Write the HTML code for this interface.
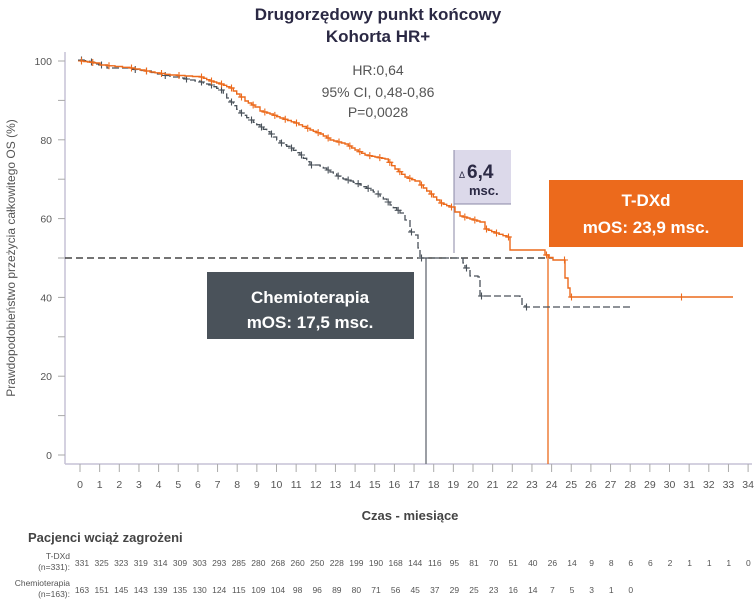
<!DOCTYPE html>
<html><head><meta charset="utf-8">
<style>
body{margin:0;background:#fff;width:756px;height:603px;overflow:hidden;font-family:"Liberation Sans",sans-serif}
svg{position:absolute;left:0;top:0}
</style></head><body>
<svg id="s" width="756" height="603" xmlns="http://www.w3.org/2000/svg" font-family="Liberation Sans, sans-serif">
<text x="378" y="20" text-anchor="middle" font-size="17" font-weight="bold" fill="#2b2944">Drugorzędowy punkt końcowy</text>
<text x="378" y="42" text-anchor="middle" font-size="17" font-weight="bold" fill="#2b2944">Kohorta HR+</text>
<line x1="65" y1="52" x2="65" y2="464" stroke="#c6c2d6" stroke-width="1.5"/>
<line x1="65" y1="464" x2="752" y2="464" stroke="#c6c2d6" stroke-width="1.5"/>
<g id="yt" font-size="10.5" fill="#555" text-anchor="end"></g>
<g id="xt" font-size="10.5" fill="#555" text-anchor="middle"></g>
<text transform="translate(15,258) rotate(-90)" text-anchor="middle" font-size="12" fill="#555">Prawdopodobieństwo przeżycia całkowitego OS (%)</text>
<text x="378" y="75" text-anchor="middle" font-size="14" fill="#555">HR:0,64</text>
<text x="378" y="97" text-anchor="middle" font-size="14" fill="#555">95% CI, 0,48-0,86</text>
<text x="378" y="117" text-anchor="middle" font-size="14" fill="#555">P=0,0028</text>
<line x1="65" y1="258" x2="553" y2="258" stroke="#222" stroke-width="1.2" stroke-dasharray="7,4"/>
<line x1="426" y1="258" x2="426" y2="464" stroke="#7a7f86" stroke-width="1.5"/>
<line x1="548" y1="254" x2="548" y2="464" stroke="#ec6a1c" stroke-width="1.3"/>
<rect x="454" y="150" width="57" height="54" fill="#dcd9ea"/>
<line x1="454" y1="150" x2="454" y2="253" stroke="#8a87a5" stroke-width="1"/>
<line x1="454" y1="204" x2="511" y2="204" stroke="#8a87a5" stroke-width="1"/>
<text x="459" y="178" font-size="9" fill="#2b2944">Δ</text>
<text x="467" y="178" font-size="19" font-weight="bold" fill="#2b2944">6,4</text>
<text x="469" y="195" font-size="13" font-weight="bold" fill="#2b2944">msc.</text>
<g id="curves"></g>
<rect x="549" y="180" width="194" height="67" fill="#ec6a1c"/>
<text x="646" y="206" text-anchor="middle" font-size="17" font-weight="bold" fill="#fff">T-DXd</text>
<text x="646" y="233" text-anchor="middle" font-size="17" font-weight="bold" fill="#fff">mOS: 23,9 msc.</text>
<rect x="207" y="272" width="207" height="67" fill="#4a525a"/>
<text x="310" y="303" text-anchor="middle" font-size="17" font-weight="bold" fill="#fff">Chemioterapia</text>
<text x="310" y="328" text-anchor="middle" font-size="17" font-weight="bold" fill="#fff">mOS: 17,5 msc.</text>
<text x="410" y="520" text-anchor="middle" font-size="13" font-weight="bold" fill="#444">Czas - miesiące</text>
<text x="28" y="542" font-size="13" font-weight="bold" fill="#444">Pacjenci wciąż zagrożeni</text>
<g font-size="8.5" fill="#555" text-anchor="end">
<text x="70" y="559">T-DXd</text><text x="70" y="570">(n=331):</text>
<text x="70" y="586">Chemioterapia</text><text x="70" y="597">(n=163):</text>
</g>
<g id="rows" font-size="8.5" fill="#555" text-anchor="middle"></g>
</svg>
<script>
var NS="http://www.w3.org/2000/svg";
function el(p,t,a,txt){var e=document.createElementNS(NS,t);for(var k in a)e.setAttribute(k,a[k]);if(txt!==undefined)e.textContent=txt;p.appendChild(e);return e;}
var yt=document.getElementById('yt'),xt=document.getElementById('xt'),svg=document.getElementById('s');
for(var v=0;v<=100;v+=10){var y=455-v*3.94;el(svg,'line',{x1:58,y1:y,x2:65,y2:y,stroke:'#aaa',"stroke-width":1});if(v%20==0)el(yt,'text',{x:52,y:y+4},v);}
for(var m=0;m<=34;m++){var x=80+m*19.65;el(svg,'line',{x1:x,y1:464,x2:x,y2:472,stroke:'#aaa',"stroke-width":1});el(xt,'text',{x:x,y:488},m);}
var c=document.getElementById('curves');
function sub(pts){var o=[pts[0]];for(var i=1;i<pts.length;i++){var a=pts[i-1],b=pts[i];var dx=b[0]-a[0],dy=b[1]-a[1];if(dx>7&&dy>1){var n=Math.min(4,Math.max(2,Math.round(dx/4)));for(var k=1;k<=n;k++)o.push([a[0]+dx*k/n,a[1]+dy*k/n]);}else o.push(b);}return o;}
function draw(pts,col,dash,w){pts=sub(pts);var d='M'+pts[0][0]+','+pts[0][1];for(var i=1;i<pts.length;i++){d+=' H'+pts[i][0].toFixed(1)+' V'+pts[i][1].toFixed(1);}
var a={d:d,fill:'none',stroke:col,"stroke-width":w};if(dash)a["stroke-dasharray"]=dash;el(c,'path',a);
for(var i=0;i<pts.length;i++){if(i%3)continue;var x=pts[i][0]+1.5,y=pts[i][1];el(c,'path',{d:'M'+(x-3.5)+','+y+'H'+(x+3.5)+'M'+x+','+(y-3.5)+'V'+(y+3.5),stroke:col,"stroke-width":1.1});}}
var gray=[[80,60],[90,62],[100,65],[107,68],[130,69],[145,71],[170,77],[180,78],[200,82],[210,85],[220,90],[230,102],[240,113],[250,120],[260,127],[270,134],[280,143],[290,148],[300,155],[310,165],[320,166],[330,172],[340,178],[350,181],[360,185],[370,190],[380,196],[390,205],[400,213],[405,220],[410,232],[415,235],[418,248],[420,258],[462,258],[463,263],[465,268],[470,276],[478,277],[480,296],[520,297],[522,305],[525,307],[580,307],[630,307]];
var orng=[[80,61],[95,63],[100,65],[130,68],[150,72],[170,75],[200,77],[210,81],[220,84],[230,88],[240,97],[245,101],[255,107],[260,111],[270,114],[280,118],[295,123],[310,130],[320,134],[330,140],[345,144],[355,150],[365,155],[375,157],[385,159],[395,169],[405,177],[415,181],[420,185],[430,194],[440,203],[450,207],[455,212],[460,216],[470,219],[480,222],[485,229],[495,233],[507,237],[510,250],[543,250],[545,255],[553,260],[563,260],[565,278],[568,288],[570,297],[600,297],[640,297],[680,297],[733,297]];
draw(gray,'#4a525a','7,3',1.3);
draw(orng,'#ec6a1c',null,1.4);
var r1=[331,325,323,319,314,309,303,293,285,280,268,260,250,228,199,190,168,144,116,95,81,70,51,40,26,14,9,8,6,6,2,1,1,1,0];
var r2=[163,151,145,143,139,135,130,124,115,109,104,98,96,89,80,71,56,45,37,29,25,23,16,14,7,5,3,1,0];
var rows=document.getElementById('rows');
r1.forEach(function(v,i){el(rows,'text',{x:82+i*19.6,y:566},v);});
r2.forEach(function(v,i){el(rows,'text',{x:82+i*19.6,y:593},v);});
</script>
</body></html>
